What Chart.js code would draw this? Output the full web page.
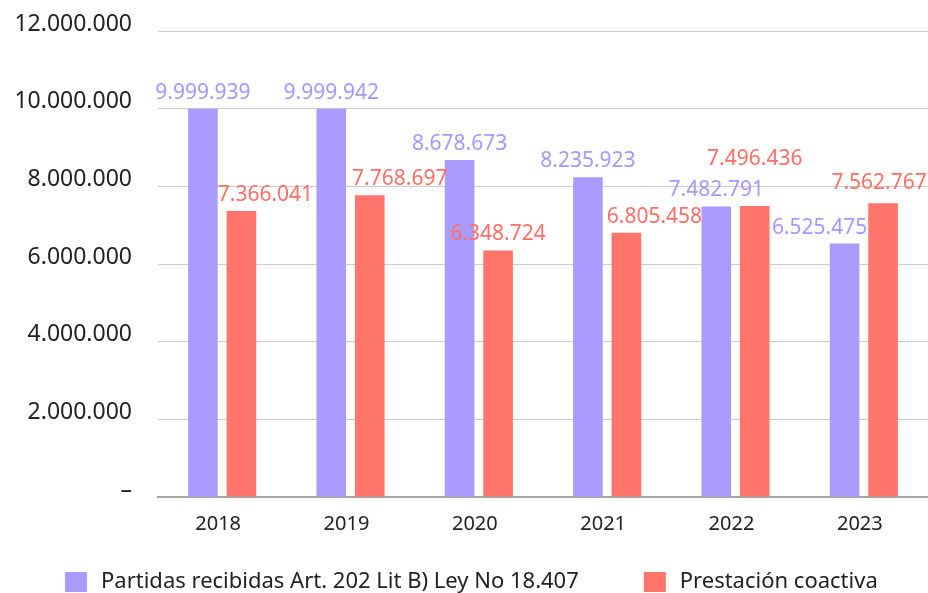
<!DOCTYPE html>
<html>
<head>
<meta charset="utf-8">
<script src="https://cdn.jsdelivr.net/npm/chart.js@4"></script>
<style>
  html, body { margin: 0; padding: 0; background: #ffffff; overflow: hidden; }
  #wrap { width: 928px; height: 593px; position: relative; }
  canvas { display: block; }
</style>
</head>
<body>
<div id="wrap"><canvas id="c"></canvas></div>
<script>
const categories = ['2018', '2019', '2020', '2021', '2022', '2023'];
const seriesNames = ['Partidas recibidas Art. 202 Lit B) Ley No 18.407', 'Prestación coactiva'];
const partidas = [9999939, 9999942, 8678673, 8235923, 7482791, 6525475];
const prestacion = [7366041, 7768697, 6348724, 6805458, 7496436, 7562767];
const yTicks = [0, 2000000, 4000000, 6000000, 8000000, 10000000, 12000000];

const PURPLE = '#ab9bff';
const RED = '#ff746b';
const FONT = "'Noto Sans', 'Open Sans', sans-serif";

function fmt(v) {
  return String(Math.round(v)).replace(/\B(?=(\d{3})+(?!\d))/g, '.');
}

// label placement tweaks (style only), per dataset, per category: [dx, dy]
const labelShift = [
  [[0,0],[0,0],[0,0],[0,0],[0,0],[-25,0]],
  [[24,0],[30,0],[0,0],[28,0],[0,-31],[-4,-4]]
];

// legend swatch: blank lead-in, 22x20 square, small trailing gap
const SW_LEAD = 55, SW_TRAIL = 3, SW_W = 22, SW_H = 20;
function swatch(color) {
  const c = document.createElement('canvas');
  c.width = SW_LEAD + SW_W + SW_TRAIL;
  c.height = SW_H;
  const g = c.getContext('2d');
  g.fillStyle = color;
  g.fillRect(SW_LEAD, 0, SW_W, SW_H);
  return c;
}

const valueLabels = {
  id: 'valueLabels',
  afterDatasetsDraw(chart) {
    const ctx = chart.ctx;
    ctx.save();
    ctx.font = '21px ' + FONT;
    ctx.textAlign = 'center';
    ctx.textBaseline = 'middle';
    chart.data.datasets.forEach((ds, di) => {
      const meta = chart.getDatasetMeta(di);
      meta.data.forEach((bar, i) => {
        const s = labelShift[di][i];
        ctx.fillStyle = ds.labelColor;
        ctx.fillText(fmt(ds.data[i]), bar.x + s[0], bar.y - 16 + s[1]);
      });
    });
    ctx.restore();
  }
};

const swatches = [swatch(PURPLE), swatch(RED)];

new Chart(document.getElementById('c'), {
  type: 'bar',
  data: {
    labels: categories,
    datasets: [
      { label: seriesNames[0], data: partidas, backgroundColor: PURPLE, labelColor: '#a798ff',
        categoryPercentage: 0.6, barPercentage: 0.77 },
      { label: seriesNames[1], data: prestacion, backgroundColor: RED, labelColor: '#ff6f66',
        categoryPercentage: 0.6, barPercentage: 0.77 }
    ]
  },
  options: {
    responsive: true,
    maintainAspectRatio: false,
    animation: false,
    layout: { padding: { top: 31, right: 0, left: 0, bottom: -10 } },
    scales: {
      x: {
        grid: { display: false, drawTicks: false },
        border: { display: true, color: '#a6a6a6', width: 2 },
        afterFit(scale) { scale.height += 10; },
        ticks: { color: '#222', font: { family: FONT, size: 20 }, padding: 15, labelOffset: -4 }
      },
      y: {
        min: 0, max: 12000000,
        afterBuildTicks(scale) { scale.ticks = yTicks.map(v => ({ value: v })); },
        afterFit(scale) { scale.width = 158; scale.paddingTop = 0; scale.paddingBottom = 0; },
        grid: { color: '#cccccc', lineWidth: 1, drawTicks: false },
        border: { display: false },
        ticks: {
          color: '#222', font: { family: FONT, size: 23 }, padding: 26, labelOffset: -7,
          callback: v => v === 0 ? '–' : fmt(v)
        }
      }
    },
    plugins: {
      legend: {
        position: 'bottom',
        align: 'start',
        labels: {
          usePointStyle: true,
          pointStyleWidth: SW_LEAD + SW_W + SW_TRAIL,
          boxHeight: 20,
          padding: 10,
          color: '#222',
          font: { family: FONT, size: 22 },
          generateLabels(chart) {
            const items = Chart.defaults.plugins.legend.labels.generateLabels(chart);
            items.forEach((it, i) => { it.pointStyle = swatches[i]; });
            return items;
          }
        }
      },
      tooltip: { enabled: false }
    }
  },
  plugins: [valueLabels]
});
</script>
</body>
</html>
